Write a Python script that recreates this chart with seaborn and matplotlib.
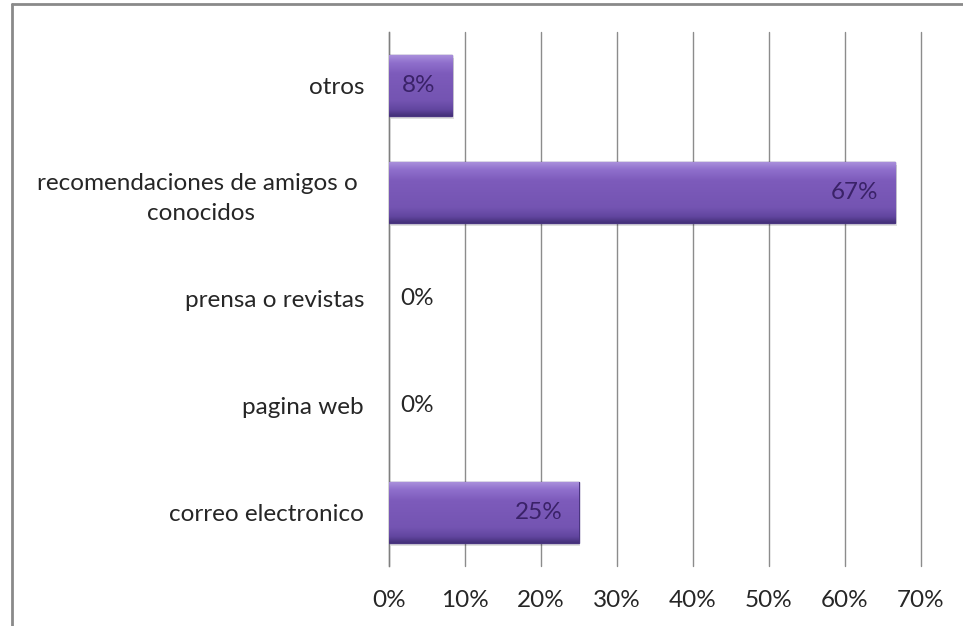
import matplotlib
matplotlib.use("Agg")
import matplotlib.pyplot as plt
import matplotlib.lines as mlines
import numpy as np
import pandas as pd
import seaborn as sns

# Survey: how respondents heard about us (share of answers)
categories = [
    "otros",
    "recomendaciones de amigos o \nconocidos",
    "prensa o revistas",
    "pagina web",
    "correo electronico",
]
shares = [8.33, 66.67, 0.0, 0.0, 25.0]
xticks = [0, 10, 20, 30, 40, 50, 60, 70]

df = pd.DataFrame({"categoria": categories, "porcentaje": shares})

sns.set_theme(style="white")
plt.rcParams["font.family"] = ["Lato", "DejaVu Sans"]

FS = 17.5
fig = plt.figure(figsize=(9.63, 6.26), dpi=100)
ax = fig.add_axes([0.404, 0.096, 0.552, 0.853])

bar_color = "#7b59b8"
sns.barplot(data=df, x="porcentaje", y="categoria", orient="h",
            color=bar_color, width=0.57, saturation=1,
            edgecolor="#4a3580", linewidth=1.0, ax=ax, zorder=3)

# vertical shading on each bar: light rim at the top, darker at the bottom
grad = np.linspace(0, 1, 64).reshape(-1, 1)
cmap = matplotlib.colors.LinearSegmentedColormap.from_list(
    "shade", [(0.0, "#a88edb"), (0.12, "#8f6fcc"), (0.3, "#7d5bbb"),
              (0.75, "#7454b2"), (0.9, "#6246a0"), (1.0, "#45317a")])
for patch in ax.patches:
    w = patch.get_width()
    if w <= 0:
        patch.set_linewidth(0)
        continue
    x0, y0 = patch.get_x(), patch.get_y()
    h = patch.get_height()
    # y axis is inverted, so the extent runs from bottom (y0+h) to top (y0)
    im = ax.imshow(grad, cmap=cmap, aspect="auto", origin="upper",
                   extent=[x0, x0 + w, y0 + h, y0], zorder=3.5,
                   interpolation="bicubic")
    im.set_clip_path(patch)
    shadow = matplotlib.patches.Rectangle((x0 + 0.2, y0 + 0.03), w, h,
                                          facecolor="#000000", alpha=0.12,
                                          edgecolor="none", zorder=2.9)
    ax.add_patch(shadow)

# value labels
for i, v in enumerate(shares):
    if v > 0:
        ax.annotate(f"{v:.0f}%", xy=(v, i), xytext=(-12, 0),
                    textcoords="offset points", ha="right", va="center",
                    fontsize=FS, color="#3a2268", zorder=5)
    else:
        ax.annotate(f"{v:.0f}%", xy=(v, i), xytext=(8, 0),
                    textcoords="offset points", ha="left", va="center",
                    fontsize=FS, color="#262626", zorder=5)

ax.set_xlim(0, 70)
ax.set_ylim(4.5, -0.5)
ax.set_xticks(xticks)
ax.set_xticklabels([f"{t}%" for t in xticks], fontsize=FS, color="#262626")
ax.tick_params(axis="x", length=0, pad=17)
ax.tick_params(axis="y", length=0, pad=18)
for lbl in ax.get_yticklabels():
    lbl.set_fontsize(FS)
    lbl.set_color("#262626")
    lbl.set_multialignment("center")
    lbl.set_linespacing(1.5)
ax.set_xlabel("")
ax.set_ylabel("")

ax.grid(axis="x", color="#8c8c8c", linewidth=1.0, zorder=0)
for gl in ax.get_xgridlines():
    gl.set_clip_on(False)
ax.set_axisbelow(True)
for side in ["top", "right", "bottom"]:
    ax.spines[side].set_visible(False)
ax.spines["left"].set_color("#7f7f7f")
ax.spines["left"].set_linewidth(1.0)

# outer chart frame (left and top edges)
fig.add_artist(mlines.Line2D([0.012, 0.012], [0.0, 0.993], color="#8a8a8a",
                             linewidth=2, transform=fig.transFigure))
fig.add_artist(mlines.Line2D([0.012, 1.0], [0.993, 0.993], color="#8a8a8a",
                             linewidth=2, transform=fig.transFigure))

fig.savefig("out.png", dpi=100, facecolor="white")
